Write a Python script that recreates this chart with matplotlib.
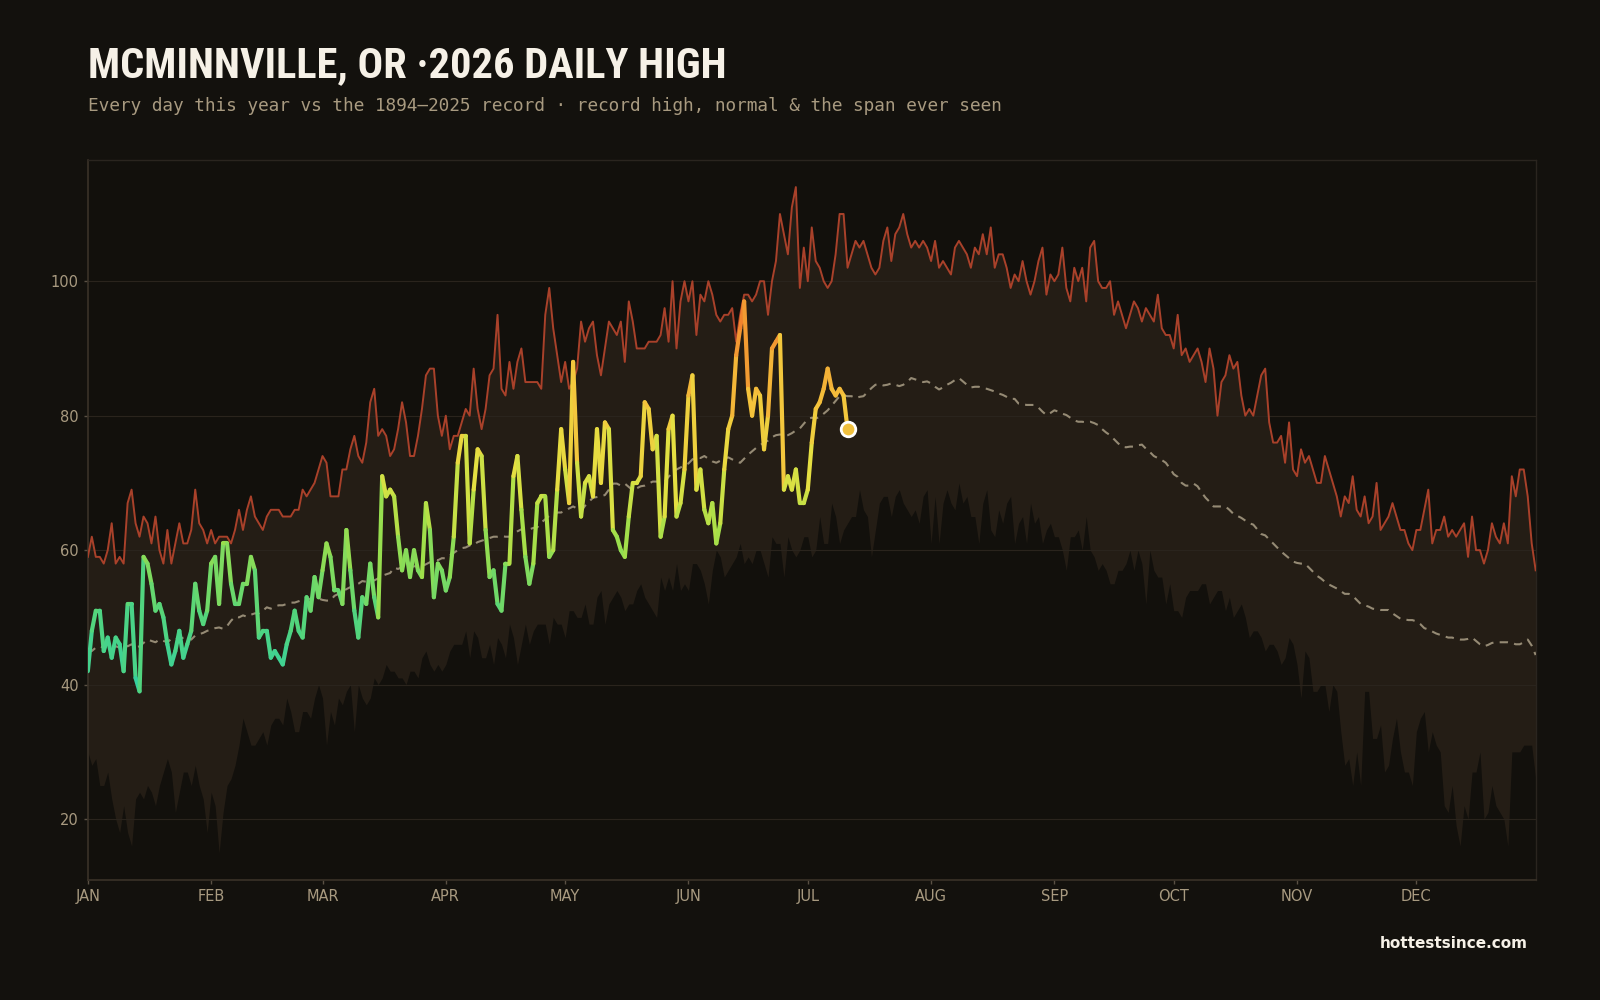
import numpy as np
import matplotlib
matplotlib.use("Agg")
import matplotlib.pyplot as plt
from matplotlib import font_manager
from matplotlib.collections import LineCollection
from matplotlib.colors import LinearSegmentedColormap, Normalize

# record high by day of year (Jan 1 = 0)
record_high = [
    59, 62, 59, 59, 58, 60, 64, 58, 59, 58,
    67, 69, 64, 62, 65, 64, 61, 65, 60, 58,
    63, 58, 61, 64, 61, 61, 63, 69, 64, 63,
    61, 63, 61, 62, 62, 62, 61, 63, 66,
    63, 66, 68, 65, 64, 63, 65, 66, 66, 66,
    65, 65, 65, 66, 66, 69, 68, 69, 70, 72,
    74, 73, 68, 68, 68, 72, 72, 75, 77, 74,
    73, 76, 82, 84, 77, 78, 77, 74,
    75, 78, 82, 79, 74, 74, 77, 81, 86, 87,
    87, 80, 77, 80, 75, 77, 77, 79, 81, 80,
    87, 81, 78, 81, 86, 87, 95, 84, 83, 88,
    84, 88, 90, 85, 85, 85, 85, 84, 95, 99,
    93, 89, 85, 88, 84, 85, 87, 94, 91, 93,
    94, 89, 86, 90, 94, 93, 92, 94, 88, 97,
    94, 90, 90, 90, 91, 91, 91, 92, 96, 91,
    100, 90, 97, 100, 97, 100, 92, 98, 97, 100,
    98, 95, 94, 95, 95, 96, 91, 95, 98, 98,
    97, 98, 100, 100, 95, 100, 103, 110, 107, 104,
    111, 114, 99, 105, 100, 108, 103, 102, 100, 99,
    100, 104, 110, 110, 102, 104, 106, 105, 106, 104,
    102, 101, 102, 106, 108, 103, 107, 108, 110, 107,
    105, 106, 105, 106, 105, 103, 106, 102, 103, 102,
    101, 105, 106, 105, 104, 102, 105, 104, 107, 104,
    108, 102, 104, 104, 102, 99, 101, 100, 103, 100,
    98, 100, 103, 105, 98, 101, 100, 101, 105, 99,
    97, 102, 100, 102, 97, 105, 106, 100, 99, 99,
    100, 95, 97, 95, 93, 95, 97, 96, 94, 96,
    95, 94, 98, 93, 92, 92, 90, 95, 89, 90,
    88, 89, 90, 88, 85, 90, 87, 80, 85, 86,
    89, 87, 88, 83, 80, 81, 80, 83, 86, 87,
    79, 76, 76, 77, 73, 79, 72, 71, 75, 73,
    74, 72, 70, 70, 74, 72, 70, 68, 65, 68,
    67, 71, 66, 65, 68, 64, 65, 70, 63, 64,
    65, 67, 65, 63, 63, 61, 60, 63, 63, 66,
    69, 61, 63, 63, 65, 62, 63, 62, 63, 64,
    59, 65, 60, 60, 58, 60, 64, 62, 61, 64,
    61, 71, 68, 72, 72, 68, 61, 57,
]

# record low of the daily high (bottom of the span ever seen)
record_low = [
    30, 28, 29, 25, 25, 27, 23, 20, 18, 22,
    18, 16, 23, 24, 23, 25, 24, 22, 25, 27,
    29, 27, 21, 24, 27, 27, 25, 28, 25, 23,
    18, 24, 22, 15, 21, 25, 26, 28, 31,
    35, 33, 31, 31, 32, 33, 31, 34, 35, 35,
    34, 38, 36, 33, 33, 36, 36, 35, 38, 40,
    38, 31, 36, 34, 38, 37, 39, 40, 33, 40,
    38, 37, 38, 41, 40, 41, 43, 42,
    42, 41, 41, 40, 42, 42, 41, 44, 45, 43,
    42, 43, 42, 43, 45, 46, 46, 46, 48, 44,
    48, 47, 44, 44, 46, 43, 47, 46, 44, 49,
    47, 43, 46, 49, 46, 48, 49, 49, 49, 46,
    50, 49, 49, 47, 51, 51, 50, 50, 52, 49,
    49, 53, 54, 49, 52, 53, 54, 53, 51, 52,
    52, 54, 55, 53, 52, 51, 50, 56, 54, 56,
    54, 58, 54, 55, 54, 58, 58, 57, 55, 52,
    57, 60, 59, 56, 57, 58, 59, 61, 58, 59,
    58, 60, 60, 58, 56, 62, 61, 61, 56, 62,
    60, 59, 60, 62, 62, 59, 60, 65, 61, 61,
    67, 65, 61, 63, 64, 65, 65, 69, 66, 65,
    59, 63, 67, 68, 68, 65, 68, 69, 67, 66,
    65, 66, 64, 68, 69, 61, 68, 61, 67, 69,
    67, 66, 70, 67, 68, 65, 65, 61, 67, 69,
    63, 62, 66, 64, 67, 68, 61, 64, 65, 61,
    67, 64, 65, 61, 63, 64, 62, 62, 60, 57,
    62, 62, 63, 60, 65, 60, 59, 57, 58, 57,
    55, 55, 57, 57, 58, 60, 57, 60, 58, 52,
    60, 57, 56, 56, 52, 55, 51, 51, 50, 53,
    54, 54, 54, 55, 55, 52, 53, 54, 54, 51,
    53, 50, 51, 52, 50, 47, 48, 48, 47, 45,
    46, 46, 45, 43, 44, 47, 46, 43, 38, 45,
    44, 39, 39, 40, 40, 36, 40, 39, 33, 28,
    29, 25, 30, 25, 39, 39, 32, 32, 34, 27,
    28, 32, 35, 30, 27, 27, 25, 33, 35, 36,
    30, 33, 31, 30, 22, 21, 25, 19, 16, 22,
    20, 27, 27, 30, 20, 21, 25, 22, 21, 20,
    16, 30, 30, 30, 31, 31, 31, 26,
]

# normal daily high
normal = [
    45.0, 45.0, 45.5, 45.7, 45.5, 46.0, 45.5, 45.7, 45.5, 46.0,
    45.7, 46.0, 45.5, 45.7, 46.2, 46.7, 46.5, 46.3, 46.7, 46.5,
    46.3, 46.8, 47.0, 46.7, 47.0, 47.2, 46.7, 47.3, 47.5, 47.7,
    48.0, 48.2, 48.4, 48.5, 48.3, 48.7, 49.5, 50.1, 50.0,
    50.3, 50.1, 50.4, 50.6, 50.6, 51.0, 51.5, 51.3, 51.6, 51.8,
    51.8, 52.0, 52.2, 52.2, 52.4, 52.6, 52.6, 52.8, 52.8, 52.8,
    52.6, 52.5, 52.5, 53.2, 53.5, 53.8, 54.2, 54.5, 54.7, 55.0,
    55.4, 55.3, 55.2, 55.5, 55.8, 56.2, 56.4, 56.6,
    57.4, 57.2, 57.5, 57.6, 57.4, 57.6, 57.6, 57.6, 57.9, 58.2,
    58.6, 58.5, 58.8, 58.8, 59.2, 59.6, 60.0, 60.3, 60.4, 60.7,
    60.8, 61.2, 61.4, 61.6, 61.8, 62.0, 62.0, 62.1, 62.0, 62.0,
    62.4, 62.8, 63.1, 63.2, 63.1, 63.3, 63.4, 64.1, 64.6, 65.1,
    65.2, 65.6, 65.6, 65.9, 66.2, 66.5, 66.2, 65.8, 66.6, 67.2,
    67.8, 67.9, 68.0, 68.2, 69.0, 69.9, 69.9, 69.6, 69.9, 69.4,
    68.9, 69.2, 69.5, 69.6, 69.9, 70.2, 70.2, 70.1, 70.2, 70.9,
    71.6, 72.0, 72.3, 72.6, 72.9, 73.5, 73.8, 73.7, 74.0, 73.6,
    73.2, 73.0, 73.3, 73.6, 73.8, 73.5, 73.2, 73.0, 73.6, 74.2,
    74.7, 75.2, 75.6, 76.0, 76.3, 76.8, 77.1, 77.2, 77.1, 77.1,
    77.4, 77.8, 78.1, 78.8, 79.5, 79.7, 79.6, 79.8, 80.3, 80.8,
    81.5, 82.2, 82.9, 83.0, 82.9, 82.9, 82.6, 82.8, 82.9, 83.5,
    84.1, 84.6, 84.7, 84.5, 84.6, 84.8, 84.6, 84.4, 84.6, 85.0,
    85.6, 85.4, 85.2, 85.0, 85.1, 84.8, 84.3, 83.9, 84.2, 84.6,
    84.9, 85.3, 85.6, 85.1, 84.6, 84.2, 84.3, 84.3, 84.1, 84.0,
    83.8, 83.6, 83.3, 83.1, 82.8, 82.5, 82.5, 81.8, 81.7, 81.6,
    81.6, 81.6, 81.2, 80.6, 80.1, 80.4, 80.8, 80.6, 80.3, 80.1,
    79.7, 79.3, 79.1, 79.1, 79.0, 79.1, 78.9, 78.6, 78.0, 77.5,
    77.1, 76.5, 75.9, 75.4, 75.3, 75.4, 75.4, 75.6, 75.7, 75.1,
    74.6, 74.0, 73.7, 73.4, 73.0, 72.2, 71.3, 70.9, 70.0, 69.6,
    69.6, 69.9, 69.5, 68.6, 67.8, 67.2, 66.5, 66.5, 66.5, 66.5,
    66.0, 65.4, 65.1, 64.8, 64.4, 64.0, 63.8, 63.1, 62.4, 62.2,
    61.6, 61.0, 60.4, 59.8, 59.3, 58.8, 58.3, 58.1, 58.0, 58.0,
    57.4, 56.8, 56.2, 55.8, 55.3, 54.9, 54.6, 54.3, 53.9, 53.5,
    53.5, 53.2, 52.6, 52.0, 51.8, 51.6, 51.3, 51.2, 51.1, 51.1,
    51.1, 50.6, 50.2, 49.8, 49.7, 49.6, 49.6, 49.4, 49.0, 48.4,
    48.2, 47.9, 47.6, 47.4, 47.2, 47.0, 47.0, 46.8, 46.7, 46.7,
    46.8, 47.0, 46.5, 46.0, 45.7, 45.9, 46.2, 46.3, 46.3, 46.3,
    46.3, 46.2, 46.0, 46.0, 46.3, 46.7, 45.8, 44.4,
]

# 2026 daily highs so far (through Jul 11)
highs_2026 = [
    42, 48, 51, 51, 45, 47, 44, 47, 46, 42,
    52, 52, 41, 39, 59, 58, 55, 51, 52, 50,
    46, 43, 45, 48, 44, 46, 48, 55, 51, 49,
    51, 58, 59, 52, 61, 61, 55, 52, 52,
    55, 55, 59, 57, 47, 48, 48, 44, 45, 44,
    43, 46, 48, 51, 48, 47, 53, 51, 56, 53,
    57, 61, 59, 54, 54, 52, 63, 57, 51, 47,
    53, 52, 58, 53, 50, 71, 68, 69,
    68, 62, 57, 60, 56, 60, 57, 56, 67, 63,
    53, 58, 57, 54, 56, 62, 73, 77, 77, 61,
    69, 75, 74, 63, 56, 57, 52, 51, 58, 58,
    71, 74, 66, 59, 55, 58, 67, 68,
    68, 59, 60, 69, 78, 72, 67, 88, 73, 65,
    70, 71, 68, 78, 70, 79, 78, 63, 62, 60,
    59, 65, 70, 70, 71, 82, 81, 75, 77, 62,
    65, 78, 80, 65, 67, 72, 83,
    86, 69, 72, 66, 64, 67, 61, 64, 72, 78,
    80, 89, 93, 97, 84, 80, 84, 83, 75, 80,
    90, 91, 92, 69, 71, 69, 72, 67, 67, 69,
    76, 81, 82, 84, 87, 84, 83, 84, 83, 78,
]

month_starts = [0, 31, 59, 90, 120, 151, 181, 212, 243, 273, 304, 334]
month_labels = ["JAN", "FEB", "MAR", "APR", "MAY", "JUN",
                "JUL", "AUG", "SEP", "OCT", "NOV", "DEC"]
y_ticks = [20, 40, 60, 80, 100]

BG = "#13110d"
TAN = "#a89a80"

names = {f.name for f in font_manager.fontManager.ttflist}
title_font = next((n for n in ["Liberation Sans Narrow", "Roboto Condensed", "Lato"]
                   if n in names), "DejaVu Sans")

fig = plt.figure(figsize=(16, 10), dpi=100, facecolor=BG)
ax = fig.add_axes([0.0549, 0.1204, 0.9049, 0.7194])
ax.set_facecolor("#12100c")

x_all = np.arange(len(record_high))
lo = np.array(record_low, dtype=float)
hi = np.array(record_high, dtype=float)
n = min(len(lo), len(hi))
ax.fill_between(x_all[:n], lo[:n], hi[:n], color="#241d15", lw=0, zorder=1)

for yv in y_ticks:
    ax.axhline(yv, color="#2a241d", lw=0.8, zorder=2)

ax.plot(np.arange(len(normal)), normal, color="#958a74", lw=1.5,
        linestyle=(0, (4, 3)), zorder=3)
ax.plot(x_all, record_high, color="#a9412a", lw=1.4, zorder=4)

# 2026 line coloured by temperature
cmap = LinearSegmentedColormap.from_list("heat", [
    (0.0, "#2fcfa6"), (0.2, "#55d57a"), (0.38, "#9fdf4a"),
    (0.55, "#e4e042"), (0.7, "#f4c53c"), (0.85, "#f29a32"), (1.0, "#ee6a28")])
norm = Normalize(38, 100)
y26 = np.array(highs_2026, dtype=float)
x26 = np.arange(len(y26))
pts = np.column_stack([x26, y26]).reshape(-1, 1, 2)
segs = np.concatenate([pts[:-1], pts[1:]], axis=1)
lc = LineCollection(segs, colors=cmap(norm((y26[:-1] + y26[1:]) / 2)),
                    linewidths=3.0, capstyle="round", joinstyle="round", zorder=5)
ax.add_collection(lc)
ax.scatter([x26[-1]], [y26[-1]], s=110, color="#f0c03e", edgecolor="white",
           linewidth=2, zorder=6)

ax.set_xlim(0, 364)
ax.set_ylim(11, 118)
ax.set_xticks(month_starts)
ax.set_xticklabels(month_labels)
ax.set_yticks(y_ticks)
ax.tick_params(colors="#5a5044", labelcolor=TAN, labelsize=10.5, length=3, width=1)
for side in ["left", "bottom"]:
    ax.spines[side].set_color("#3a3228")
    ax.spines[side].set_linewidth(1.2)
for side in ["top", "right"]:
    ax.spines[side].set_color("#2a251f")
    ax.spines[side].set_linewidth(1.0)

fig.text(0.055, 0.9224, "MCMINNVILLE, OR ·2026 DAILY HIGH", family=title_font,
         fontweight="bold", fontsize=30.5, color="#f6f1e7", va="baseline")
fig.text(0.055, 0.894,
         "Every day this year vs the 1894\u20132025 record \u00b7 record high, normal & the span ever seen",
         family="DejaVu Sans Mono", fontsize=12.8, color=TAN, va="center")
fig.text(0.9548, 0.056, "hottestsince.com", fontweight="bold", fontsize=11,
         color="#f6f1e7", ha="right", va="center")

fig.savefig("out.png", facecolor=BG)
